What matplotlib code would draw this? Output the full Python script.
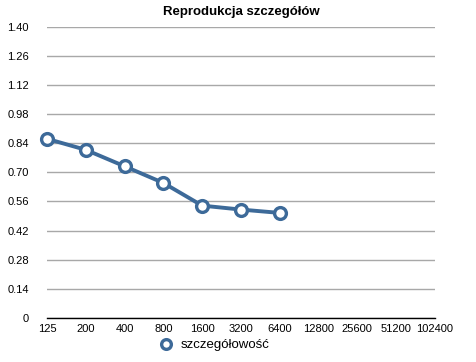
import matplotlib.pyplot as plt
from matplotlib.lines import Line2D

plt.rcParams['font.family'] = ['Liberation Sans', 'DejaVu Sans']

categories = ['125', '200', '400', '800', '1600', '3200', '6400',
              '12800', '25600', '51200', '102400']
values = [0.861, 0.808, 0.729, 0.649, 0.540, 0.521, 0.505]
yticks = [0, 0.14, 0.28, 0.42, 0.56, 0.70, 0.84, 0.98, 1.12, 1.26, 1.40]
ylabels = ['0', '0.14', '0.28', '0.42', '0.56', '0.70', '0.84', '0.98',
           '1.12', '1.26', '1.40']

col = '#3d6a99'

fig = plt.figure(figsize=(4.76, 3.62), dpi=100)
ax = fig.add_axes([0.0987, 0.1215, 0.815, 0.805])

ax.plot(range(len(values)), values, color=col, lw=2.8, marker='o',
        ms=8.5, mfc='white', mec=col, mew=2.4,
        zorder=3, clip_on=False)

ax.set_xlim(0, len(categories) - 1)
ax.set_ylim(0, 1.40)
ax.set_xticks(range(len(categories)))
ax.set_xticklabels(categories, fontsize=8)
ax.set_yticks(yticks)
ax.set_yticklabels(ylabels, fontsize=8)
ax.tick_params(length=0)
ax.tick_params(axis='y', pad=13)
ax.tick_params(axis='x', pad=4)
ax.grid(axis='y', color='#a8a8a8', lw=1)
ax.set_axisbelow(True)
for s in ['top', 'right', 'left']:
    ax.spines[s].set_visible(False)
ax.spines['bottom'].set_color('black')
ax.spines['bottom'].set_linewidth(1)

ax.set_title('Reprodukcja szczegółów', fontsize=9.5, fontweight='bold', pad=8)

h = Line2D([], [], ls='none', marker='o', ms=7, mfc='white', mec=col, mew=2.4)
fig.legend([h], ['szczegółowość'], loc='center', bbox_to_anchor=(0.45, 0.046),
           frameon=False, fontsize=9.5, handlelength=1.0, handletextpad=0.6)

fig.savefig('out.png', dpi=100)
